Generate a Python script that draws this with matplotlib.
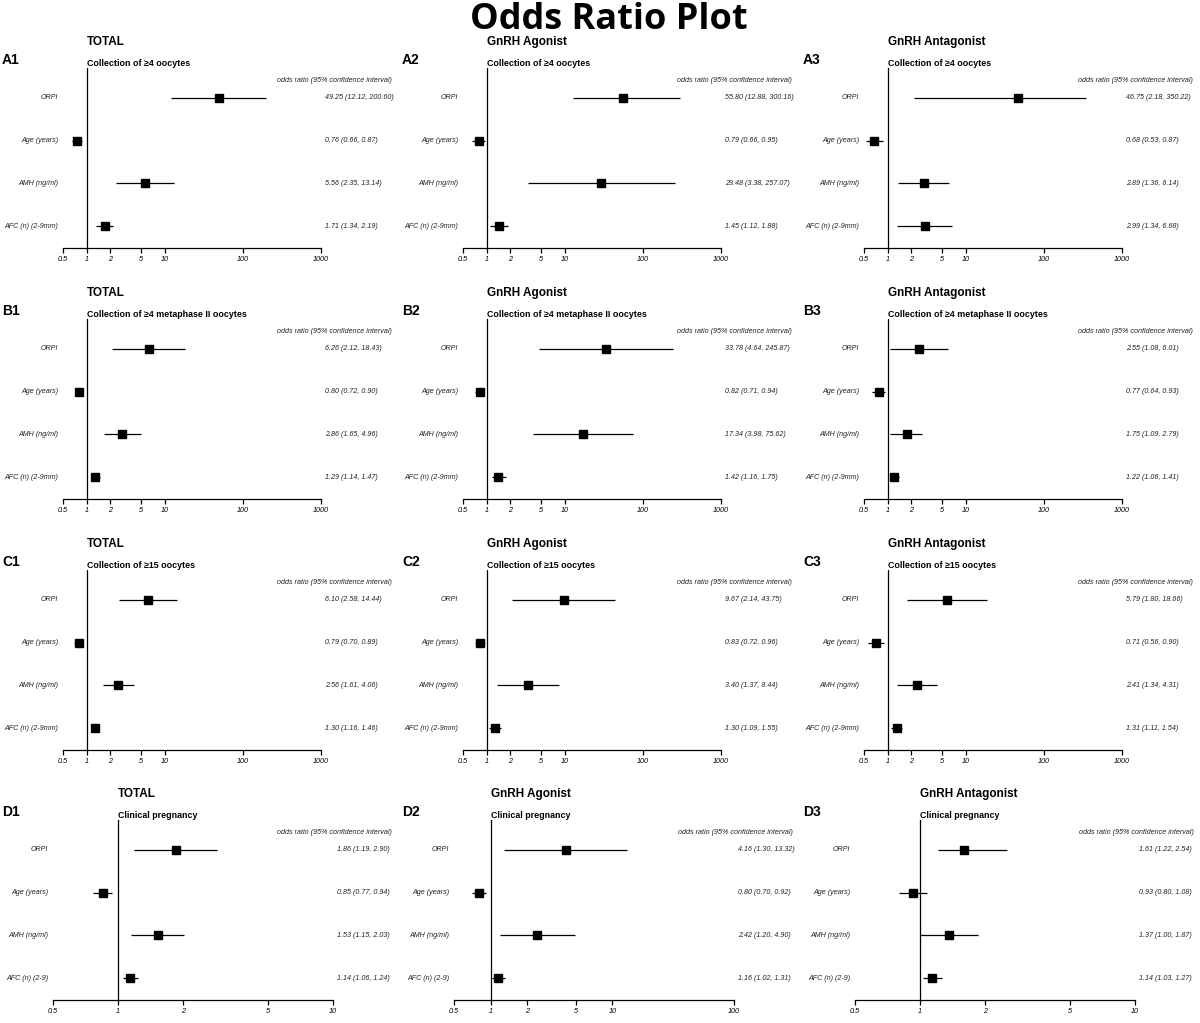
import matplotlib
matplotlib.use("Agg")
from matplotlib import pyplot as plt

FONT = ["Liberation Sans", "DejaVu Sans"]

row_names = ["ORPI", "Age (years)", "AMH (ng/ml)", "AFC (n) (2-9mm)"]
row_names_d = ["ORPI", "Age (years)", "AMH (ng/ml)", "AFC (n) (2-9)"]
col_titles = ["TOTAL", "GnRH Agonist", "GnRH Antagonist"]
outcomes = ["Collection of \u22654 oocytes",
            "Collection of \u22654 metaphase II oocytes",
            "Collection of \u226515 oocytes",
            "Clinical pregnancy"]
panel_tags = [["A1", "A2", "A3"], ["B1", "B2", "B3"],
              ["C1", "C2", "C3"], ["D1", "D2", "D3"]]

# odds ratio, lower CI, upper CI  (rows: ORPI, Age, AMH, AFC)
or_a1 = [49.25, 0.76, 5.56, 1.71]
lo_a1 = [12.12, 0.66, 2.35, 1.34]
hi_a1 = [200.60, 0.87, 13.14, 2.19]
or_a2 = [55.80, 0.79, 29.48, 1.45]
lo_a2 = [12.88, 0.66, 3.38, 1.12]
hi_a2 = [300.16, 0.95, 257.07, 1.88]
or_a3 = [46.75, 0.68, 2.89, 2.99]
lo_a3 = [2.18, 0.53, 1.36, 1.34]
hi_a3 = [350.22, 0.87, 6.14, 6.68]

or_b1 = [6.26, 0.80, 2.86, 1.29]
lo_b1 = [2.12, 0.72, 1.65, 1.14]
hi_b1 = [18.43, 0.90, 4.96, 1.47]
or_b2 = [33.78, 0.82, 17.34, 1.42]
lo_b2 = [4.64, 0.71, 3.98, 1.16]
hi_b2 = [245.87, 0.94, 75.62, 1.75]
or_b3 = [2.55, 0.77, 1.75, 1.22]
lo_b3 = [1.08, 0.64, 1.09, 1.06]
hi_b3 = [6.01, 0.93, 2.79, 1.41]

or_c1 = [6.10, 0.79, 2.56, 1.30]
lo_c1 = [2.58, 0.70, 1.61, 1.16]
hi_c1 = [14.44, 0.89, 4.06, 1.46]
or_c2 = [9.67, 0.83, 3.40, 1.30]
lo_c2 = [2.14, 0.72, 1.37, 1.09]
hi_c2 = [43.75, 0.96, 8.44, 1.55]
or_c3 = [5.79, 0.71, 2.41, 1.31]
lo_c3 = [1.80, 0.56, 1.34, 1.11]
hi_c3 = [18.66, 0.90, 4.31, 1.54]

or_d1 = [1.86, 0.85, 1.53, 1.14]
lo_d1 = [1.19, 0.77, 1.15, 1.06]
hi_d1 = [2.90, 0.94, 2.03, 1.24]
or_d2 = [4.16, 0.80, 2.42, 1.16]
lo_d2 = [1.30, 0.70, 1.20, 1.02]
hi_d2 = [13.32, 0.92, 4.90, 1.31]
or_d3 = [1.61, 0.93, 1.37, 1.14]
lo_d3 = [1.22, 0.80, 1.00, 1.03]
hi_d3 = [2.54, 1.08, 1.87, 1.27]

ticks_wide = [0.5, 1, 2, 5, 10, 100, 1000]
ticks_d1 = [0.5, 1, 2, 5, 10]
ticks_d2 = [0.5, 1, 2, 5, 10, 100]
ticks_d3 = [0.5, 1, 2, 5, 10]

panels = [
    [(or_a1, lo_a1, hi_a1, ticks_wide), (or_a2, lo_a2, hi_a2, ticks_wide), (or_a3, lo_a3, hi_a3, ticks_wide)],
    [(or_b1, lo_b1, hi_b1, ticks_wide), (or_b2, lo_b2, hi_b2, ticks_wide), (or_b3, lo_b3, hi_b3, ticks_wide)],
    [(or_c1, lo_c1, hi_c1, ticks_wide), (or_c2, lo_c2, hi_c2, ticks_wide), (or_c3, lo_c3, hi_c3, ticks_wide)],
    [(or_d1, lo_d1, hi_d1, ticks_d1), (or_d2, lo_d2, hi_d2, ticks_d2), (or_d3, lo_d3, hi_d3, ticks_d3)],
]

W, H = 1200, 1023
fig = plt.figure(figsize=(W / 100, H / 100), dpi=100)

fig.text(609 / W, 1 - 29 / H, "Odds Ratio Plot", ha="center", va="baseline",
         fontsize=26, fontweight="bold", family=["Open Sans", "DejaVu Sans"])

# layout in pixels
axis_y = [248, 499, 750, 1000]
left_abc = [63, 463, 864]
left_d = [53, 454, 855]
tag_x = [2, 402, 803]
ax_h = 180

for r in range(4):
    for c in range(3):
        vals, lo, hi, ticks = panels[r][c]
        if r < 3:
            x0, w, head_off, names = left_abc[c], 258, 71, row_names
        else:
            x0, w, head_off, names = left_d[c], 280, 59, row_names_d
        yb = axis_y[r]
        ax = fig.add_axes([x0 / W, 1 - yb / H, w / W, ax_h / H])
        ax.set_xscale("log")
        ax.set_xlim(ticks[0], ticks[-1])
        ax.set_ylim(0.485, 4.70)
        ypos = [4, 3, 2, 1]

        ax.axvline(1, color="black", lw=0.9)
        ax.hlines(ypos, lo, hi, color="black", lw=0.9)
        ax.plot(vals, ypos, "s", color="black", markersize=5.4)

        for s in ["top", "right", "left"]:
            ax.spines[s].set_visible(False)
        ax.spines["bottom"].set_linewidth(0.9)
        ax.set_yticks([])
        ax.set_xticks(ticks)
        ax.set_xticklabels([f"{t:g}" for t in ticks], fontstyle="italic",
                           fontsize=5.2, family=FONT)
        ax.minorticks_off()
        ax.tick_params(axis="x", direction="out", length=3.5, width=0.9, pad=2)
        ax.patch.set_visible(False)

        for y, name, v, l, h in zip(ypos, names, vals, lo, hi):
            ax.annotate(name, xy=(0, y), xycoords=("axes fraction", "data"),
                        xytext=(-5, 0), textcoords="offset pixels",
                        ha="right", va="center", fontsize=5.1,
                        fontstyle="italic", family=FONT, color="#222222")
            ax.annotate(f"{v:.2f} ({l:.2f}, {h:.2f})", xy=(1, y),
                        xycoords=("axes fraction", "data"),
                        xytext=(4, 0), textcoords="offset pixels",
                        ha="left", va="center", fontsize=5.1,
                        fontstyle="italic", family=FONT, color="#222222")

        ax.annotate("odds ratio (95% confidence interval)", xy=(1, 0),
                    xycoords="axes fraction", xytext=(head_off, 166),
                    textcoords="offset pixels", ha="right", va="baseline",
                    fontsize=5.1, fontstyle="italic", family=FONT,
                    color="#222222")
        ax.annotate(outcomes[r], xy=(1, 0), xycoords=("data", "axes fraction"),
                    xytext=(0, 182), textcoords="offset pixels",
                    ha="left", va="baseline", fontsize=6.4,
                    fontweight="bold", family=FONT)
        ax.annotate(col_titles[c], xy=(1, 0), xycoords=("data", "axes fraction"),
                    xytext=(0, 203), textcoords="offset pixels",
                    ha="left", va="baseline", fontsize=8.5,
                    fontweight="bold", family=FONT)
        fig.text(tag_x[c] / W, 1 - (yb - 184) / H, panel_tags[r][c],
                 ha="left", va="baseline", fontsize=10, fontweight="bold",
                 family=FONT)

fig.savefig("out.png", dpi=100)
